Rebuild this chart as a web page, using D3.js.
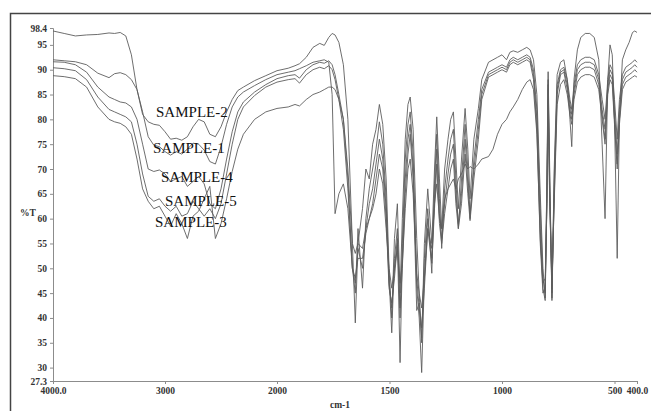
<!DOCTYPE html>
<html>
<head>
<meta charset="utf-8">
<script src="https://cdnjs.cloudflare.com/ajax/libs/d3/7.8.5/d3.min.js"></script>
<style>
  body { margin: 0; background: #fff; }
  .axis path, .axis line { stroke: #8c8c8c; stroke-width: 1; }
  .axis text { font-family: "Liberation Serif", serif; font-size: 9.5px; font-weight: bold; fill: #333; }
  .spectrum { fill: none; stroke: #5e5e5e; stroke-width: 0.9; stroke-linejoin: round; }
  .sample-label { font-family: "Liberation Serif", serif; font-size: 15px; fill: #111; }
  .axis-title { font-family: "Liberation Serif", serif; font-size: 9.5px; font-weight: bold; fill: #333; }
</style>
</head>
<body>
<div id="chart"></div>
<script>

// wavenumbers (cm-1), shared by every sample
var wavenumbers = [
  4000, 3900, 3800, 3700, 3600, 3500, 3450, 3400, 3350, 3300,
  3250, 3200, 3150, 3100, 3050, 3000, 2950, 2900, 2850, 2800,
  2750, 2700, 2650, 2600, 2550, 2500, 2450, 2400, 2350, 2300,
  2200, 2100, 2000, 1950, 1920, 1900, 1870, 1840, 1810, 1790,
  1770, 1755, 1742, 1725, 1705, 1685, 1665, 1652, 1640, 1620,
  1605, 1590, 1575, 1560, 1545, 1530, 1515, 1502, 1490, 1478,
  1465, 1453, 1443, 1430, 1418, 1408, 1395, 1379, 1368, 1357,
  1345, 1330, 1312, 1300, 1290, 1278, 1268, 1255, 1240, 1228,
  1216, 1205, 1194, 1180, 1164, 1152, 1142, 1125, 1105, 1090,
  1060, 1040, 1020, 1000, 980, 965, 950, 930, 910, 890,
  875, 860, 845, 830, 818, 808, 800, 795, 788, 778,
  768, 755, 740, 725, 710, 698, 690, 680, 665, 650,
  630, 610, 590, 570, 555, 542, 530, 520, 510, 500,
  488, 478, 465, 450, 435, 420, 410, 400
];

// %T
var sample1 = [
  92.0, 91.8, 91.6, 91.0, 89.3, 88.4, 89.2, 89.4, 89.0, 88.0,
  86.0, 81.5, 76.5, 74.8, 74.5, 73.5, 72.8, 73.5, 73.0, 74.0,
  75.2, 75.0, 73.8, 71.5, 71.0, 74.5, 79.0, 82.5, 84.5, 85.5,
  86.8, 88.0, 89.0, 89.5, 89.8, 90.2, 90.8, 91.5, 91.8, 92.0,
  91.5, 85.0, 61.0, 65.0, 67.0, 62.0, 50.0, 45.0, 58.0, 46.0,
  60.0, 66.0, 70.0, 74.0, 79.5, 75.0, 64.0, 48.0, 37.0, 52.0,
  58.0, 40.0, 55.0, 72.0, 79.0, 81.5, 73.0, 48.0, 42.0, 36.0,
  52.0, 62.0, 49.0, 67.0, 77.0, 64.0, 54.0, 66.0, 72.0, 76.0,
  78.0, 68.0, 58.0, 68.0, 79.0, 70.0, 60.0, 72.0, 80.0, 86.0,
  89.5, 90.0, 90.5, 91.0, 90.5, 92.0, 92.5, 92.0, 92.5, 93.0,
  92.5, 90.0, 82.0, 62.0, 48.0, 45.0, 68.0, 88.0, 68.0, 45.0,
  68.0, 87.0, 90.0, 90.5, 88.0, 84.0, 82.0, 87.0, 91.0, 92.0,
  92.5, 92.5, 92.0, 89.0, 84.0, 80.0, 88.0, 91.0, 90.0, 84.0,
  76.0, 84.0, 89.0, 90.5, 91.0, 91.5, 92.0, 91.5
];

var sample2 = [
  97.8, 97.3, 96.8, 97.0, 97.1, 97.4, 97.3, 97.5, 96.8, 93.0,
  86.0, 81.0, 79.5, 79.0, 78.8, 77.5, 76.0, 76.2, 75.8, 76.5,
  78.5, 80.0, 79.5, 77.0, 76.5, 78.5, 81.5, 84.0, 85.8, 86.5,
  87.8, 88.8, 89.8, 90.3, 90.8, 91.2, 92.5, 94.5, 95.3, 94.9,
  96.5, 97.3, 97.0, 95.5, 91.0, 80.0, 55.0, 39.0, 55.0, 62.0,
  70.0, 68.0, 75.0, 78.0, 83.0, 79.0, 68.0, 50.0, 40.0, 56.0,
  63.0, 45.0, 60.0, 76.0, 83.0, 84.5, 78.0, 56.0, 45.0, 35.0,
  55.0, 66.0, 55.0, 70.0, 80.5, 68.0, 58.0, 70.0, 76.0, 80.0,
  81.5, 72.0, 62.0, 72.0, 82.2, 74.0, 64.0, 76.0, 82.2, 88.0,
  91.5, 92.0, 92.5, 93.0, 92.0, 93.5, 93.8, 93.5, 94.0, 94.5,
  94.0, 92.0, 85.0, 65.0, 50.0, 44.0, 70.0, 89.6, 70.0, 43.5,
  70.0, 89.0, 91.5, 92.0, 88.0, 80.0, 74.5, 88.0, 94.0, 96.5,
  97.3, 97.3, 96.5, 92.0, 75.0, 60.0, 88.0, 95.0, 93.0, 80.0,
  52.0, 80.0, 92.0, 94.0, 95.5, 97.5, 97.8, 97.5
];

var sample3 = [
  88.8, 88.6, 88.2, 86.5, 82.5, 80.0, 79.5, 79.2, 78.5, 77.0,
  72.0, 66.0, 63.5, 62.0, 62.5, 60.5, 58.5, 61.0, 59.0, 56.0,
  60.5, 61.5, 64.0, 66.5, 56.0, 59.0, 64.0, 69.5, 74.0, 77.0,
  80.0, 81.5, 82.2, 82.5, 83.0, 82.7, 84.0, 85.0, 85.5, 86.0,
  86.5, 86.5, 86.0, 84.0, 80.0, 70.0, 55.0, 53.0, 55.0, 54.0,
  58.0, 60.0, 62.0, 65.0, 70.0, 67.0, 58.0, 50.0, 46.0, 50.0,
  54.0, 47.0, 51.0, 62.0, 70.0, 72.0, 65.0, 49.0, 45.0, 42.0,
  48.0, 58.0, 54.0, 63.0, 67.0, 60.0, 58.0, 64.0, 66.0, 67.0,
  68.0, 66.0, 68.0, 69.0, 71.0, 70.0, 70.5, 70.0, 71.0, 72.0,
  72.5, 74.0, 77.0, 79.0, 80.0, 81.5, 82.5, 84.0, 86.0, 87.5,
  88.0, 86.0, 77.0, 56.0, 47.0, 48.0, 63.0, 84.0, 63.0, 48.0,
  63.0, 83.0, 87.0, 88.0, 85.0, 81.0, 79.0, 84.0, 87.5, 88.5,
  89.0, 89.0, 88.5, 86.0, 80.0, 75.0, 85.0, 88.0, 87.0, 79.0,
  70.0, 79.0, 86.0, 87.5, 88.0, 88.5, 88.8, 88.5
];

var sample4 = [
  91.6, 91.5, 91.0, 89.5, 86.5, 84.5, 84.0, 83.5, 83.3, 82.5,
  80.0, 75.0, 70.0, 69.5, 69.8, 69.0, 67.5, 68.0, 68.5, 66.5,
  67.5, 68.5, 67.0, 63.0, 62.0, 66.0, 72.0, 77.5, 81.5, 83.5,
  85.5, 87.0, 88.2, 88.8, 89.0, 88.3, 90.0, 91.0, 91.5, 91.3,
  91.8, 91.0, 89.0, 85.0, 80.0, 68.0, 50.0, 47.0, 54.0, 50.0,
  58.0, 63.0, 66.0, 71.0, 76.0, 72.0, 62.0, 47.0, 42.0, 50.0,
  56.0, 31.0, 52.0, 68.0, 76.0, 79.0, 70.0, 46.0, 40.0, 29.0,
  48.0, 60.0, 52.0, 64.0, 74.0, 61.0, 56.0, 63.0, 69.0, 73.0,
  75.0, 65.0, 59.0, 65.0, 76.0, 67.0, 61.0, 70.0, 78.0, 85.0,
  89.0, 89.5, 90.0, 90.5, 90.0, 91.5, 92.0, 91.5, 92.0, 92.5,
  92.0, 89.0, 80.0, 58.0, 46.0, 43.5, 66.0, 87.0, 66.0, 44.0,
  66.0, 86.0, 89.5, 90.0, 87.0, 83.0, 81.0, 86.0, 90.0, 91.0,
  91.5, 91.5, 91.0, 88.0, 82.0, 78.0, 87.0, 90.0, 89.0, 82.0,
  73.0, 82.0, 88.0, 89.5, 90.0, 90.5, 91.0, 90.5
];

var sample5 = [
  90.4, 90.2, 89.8, 88.0, 84.5, 82.0, 81.5, 81.0, 80.5, 79.5,
  75.0, 69.0, 64.5, 63.5, 64.0, 62.5, 61.5, 62.5, 60.5, 61.0,
  63.5, 62.0, 60.5, 62.0, 60.0, 63.0, 69.0, 75.0, 80.0, 82.5,
  84.8, 86.5, 87.5, 88.0, 88.2, 87.3, 89.0, 90.0, 90.5, 90.2,
  90.8, 90.0, 88.0, 84.0, 78.0, 66.0, 50.0, 48.0, 52.0, 52.0,
  57.0, 60.0, 63.0, 68.0, 73.0, 70.0, 60.0, 46.0, 43.0, 48.0,
  55.0, 42.0, 50.0, 65.0, 73.0, 77.0, 68.0, 41.5, 43.0, 38.0,
  46.0, 58.0, 51.0, 62.0, 71.0, 59.0, 55.0, 61.0, 66.0, 70.0,
  72.0, 63.0, 58.0, 63.0, 73.0, 65.0, 59.6, 68.0, 76.0, 84.0,
  88.5, 89.0, 89.5, 90.0, 89.5, 91.0, 91.5, 91.0, 91.5, 92.0,
  91.5, 88.0, 78.0, 55.0, 45.0, 46.0, 64.0, 86.0, 64.0, 46.0,
  64.0, 85.0, 89.0, 89.5, 86.0, 82.0, 80.0, 85.0, 89.0, 90.0,
  90.5, 90.5, 90.0, 87.0, 81.0, 76.0, 86.0, 89.0, 88.0, 80.0,
  71.0, 80.0, 87.0, 88.5, 89.0, 89.5, 90.0, 89.5
];

var sampleNames = ["SAMPLE-1", "SAMPLE-2", "SAMPLE-3", "SAMPLE-4", "SAMPLE-5"];

var xTickValues = [4000, 3000, 2000, 1500, 1000, 500, 400];
var yTickValues = [98.4, 95, 90, 85, 80, 75, 70, 65, 60, 55, 50, 45, 40, 35, 30, 27.3];


/*
 * SpectrumChart - FTIR overlay of the five samples
 */

SpectrumChart = function(_parentElement){
  this.parentElement = _parentElement;
  this.series = [sample1, sample2, sample3, sample4, sample5];

  this.initVis();
}

SpectrumChart.prototype.initVis = function(){
  var vis = this;

  vis.width = 651;
  vis.height = 411;

  vis.svg = d3.select("#" + vis.parentElement).append("svg")
    .attr("width", vis.width)
    .attr("height", vis.height);

  // outer frame (runs off the right and bottom of the picture)
  vis.svg.append("rect")
    .attr("x", 10.5).attr("y", 13.5)
    .attr("width", 700).attr("height", 500)
    .attr("fill", "none")
    .attr("stroke", "#444")
    .attr("stroke-width", 1.5);

  // x is expanded 2x below 2000 cm-1, as the instrument prints it
  vis.x = d3.scaleLinear()
    .domain([4000, 2000, 400])
    .range([53, 277, 637]);

  vis.y = d3.scaleLinear()
    .domain([27.3, 98.4])
    .range([381, 28]);

  vis.xAxis = d3.axisBottom(vis.x)
    .tickValues(xTickValues)
    .tickSize(3)
    .tickFormat(function(d){ return (d === 4000 || d === 400) ? d.toFixed(1) : d; });

  vis.yAxis = d3.axisLeft(vis.y)
    .tickValues(yTickValues)
    .tickSize(3)
    .tickFormat(function(d){ return d; });

  vis.svg.append("g")
    .attr("class", "x-axis axis")
    .attr("transform", "translate(0,381)");

  vis.svg.append("g")
    .attr("class", "y-axis axis")
    .attr("transform", "translate(53,0)");

  vis.svg.append("text")
    .attr("class", "axis-title")
    .attr("x", 340).attr("y", 408)
    .attr("text-anchor", "middle")
    .text("cm-1");

  vis.svg.append("text")
    .attr("class", "axis-title")
    .attr("x", 20).attr("y", 216)
    .text("%T");

  vis.line = d3.line()
    .x(function(d){ return vis.x(d[0]); })
    .y(function(d){ return vis.y(d[1]); });

  vis.wrangleData();
}

SpectrumChart.prototype.wrangleData = function(){
  var vis = this;

  vis.displayData = vis.series.map(function(values){
    return wavenumbers.map(function(w, i){ return [w, values[i]]; });
  });

  vis.updateVis();
}

SpectrumChart.prototype.updateVis = function(){
  var vis = this;

  vis.svg.selectAll(".spectrum")
    .data(vis.displayData)
    .enter().append("path")
    .attr("class", "spectrum")
    .attr("d", vis.line);

  vis.svg.select(".x-axis").call(vis.xAxis);
  vis.svg.select(".y-axis").call(vis.yAxis);

  // labels sit inside the O-H band, in data units
  var spots = [
    { name: sampleNames[1], w: 3080, t: 80.5 },
    { name: sampleNames[0], w: 3107, t: 73.2 },
    { name: sampleNames[3], w: 3036, t: 67.4 },
    { name: sampleNames[4], w: 3000, t: 62.6 },
    { name: sampleNames[2], w: 3089, t: 58.3 }
  ];

  vis.svg.selectAll(".sample-label")
    .data(spots)
    .enter().append("text")
    .attr("class", "sample-label")
    .attr("x", function(d){ return vis.x(d.w); })
    .attr("y", function(d){ return vis.y(d.t); })
    .text(function(d){ return d.name; });
}

new SpectrumChart("chart");

</script>
</body>
</html>
